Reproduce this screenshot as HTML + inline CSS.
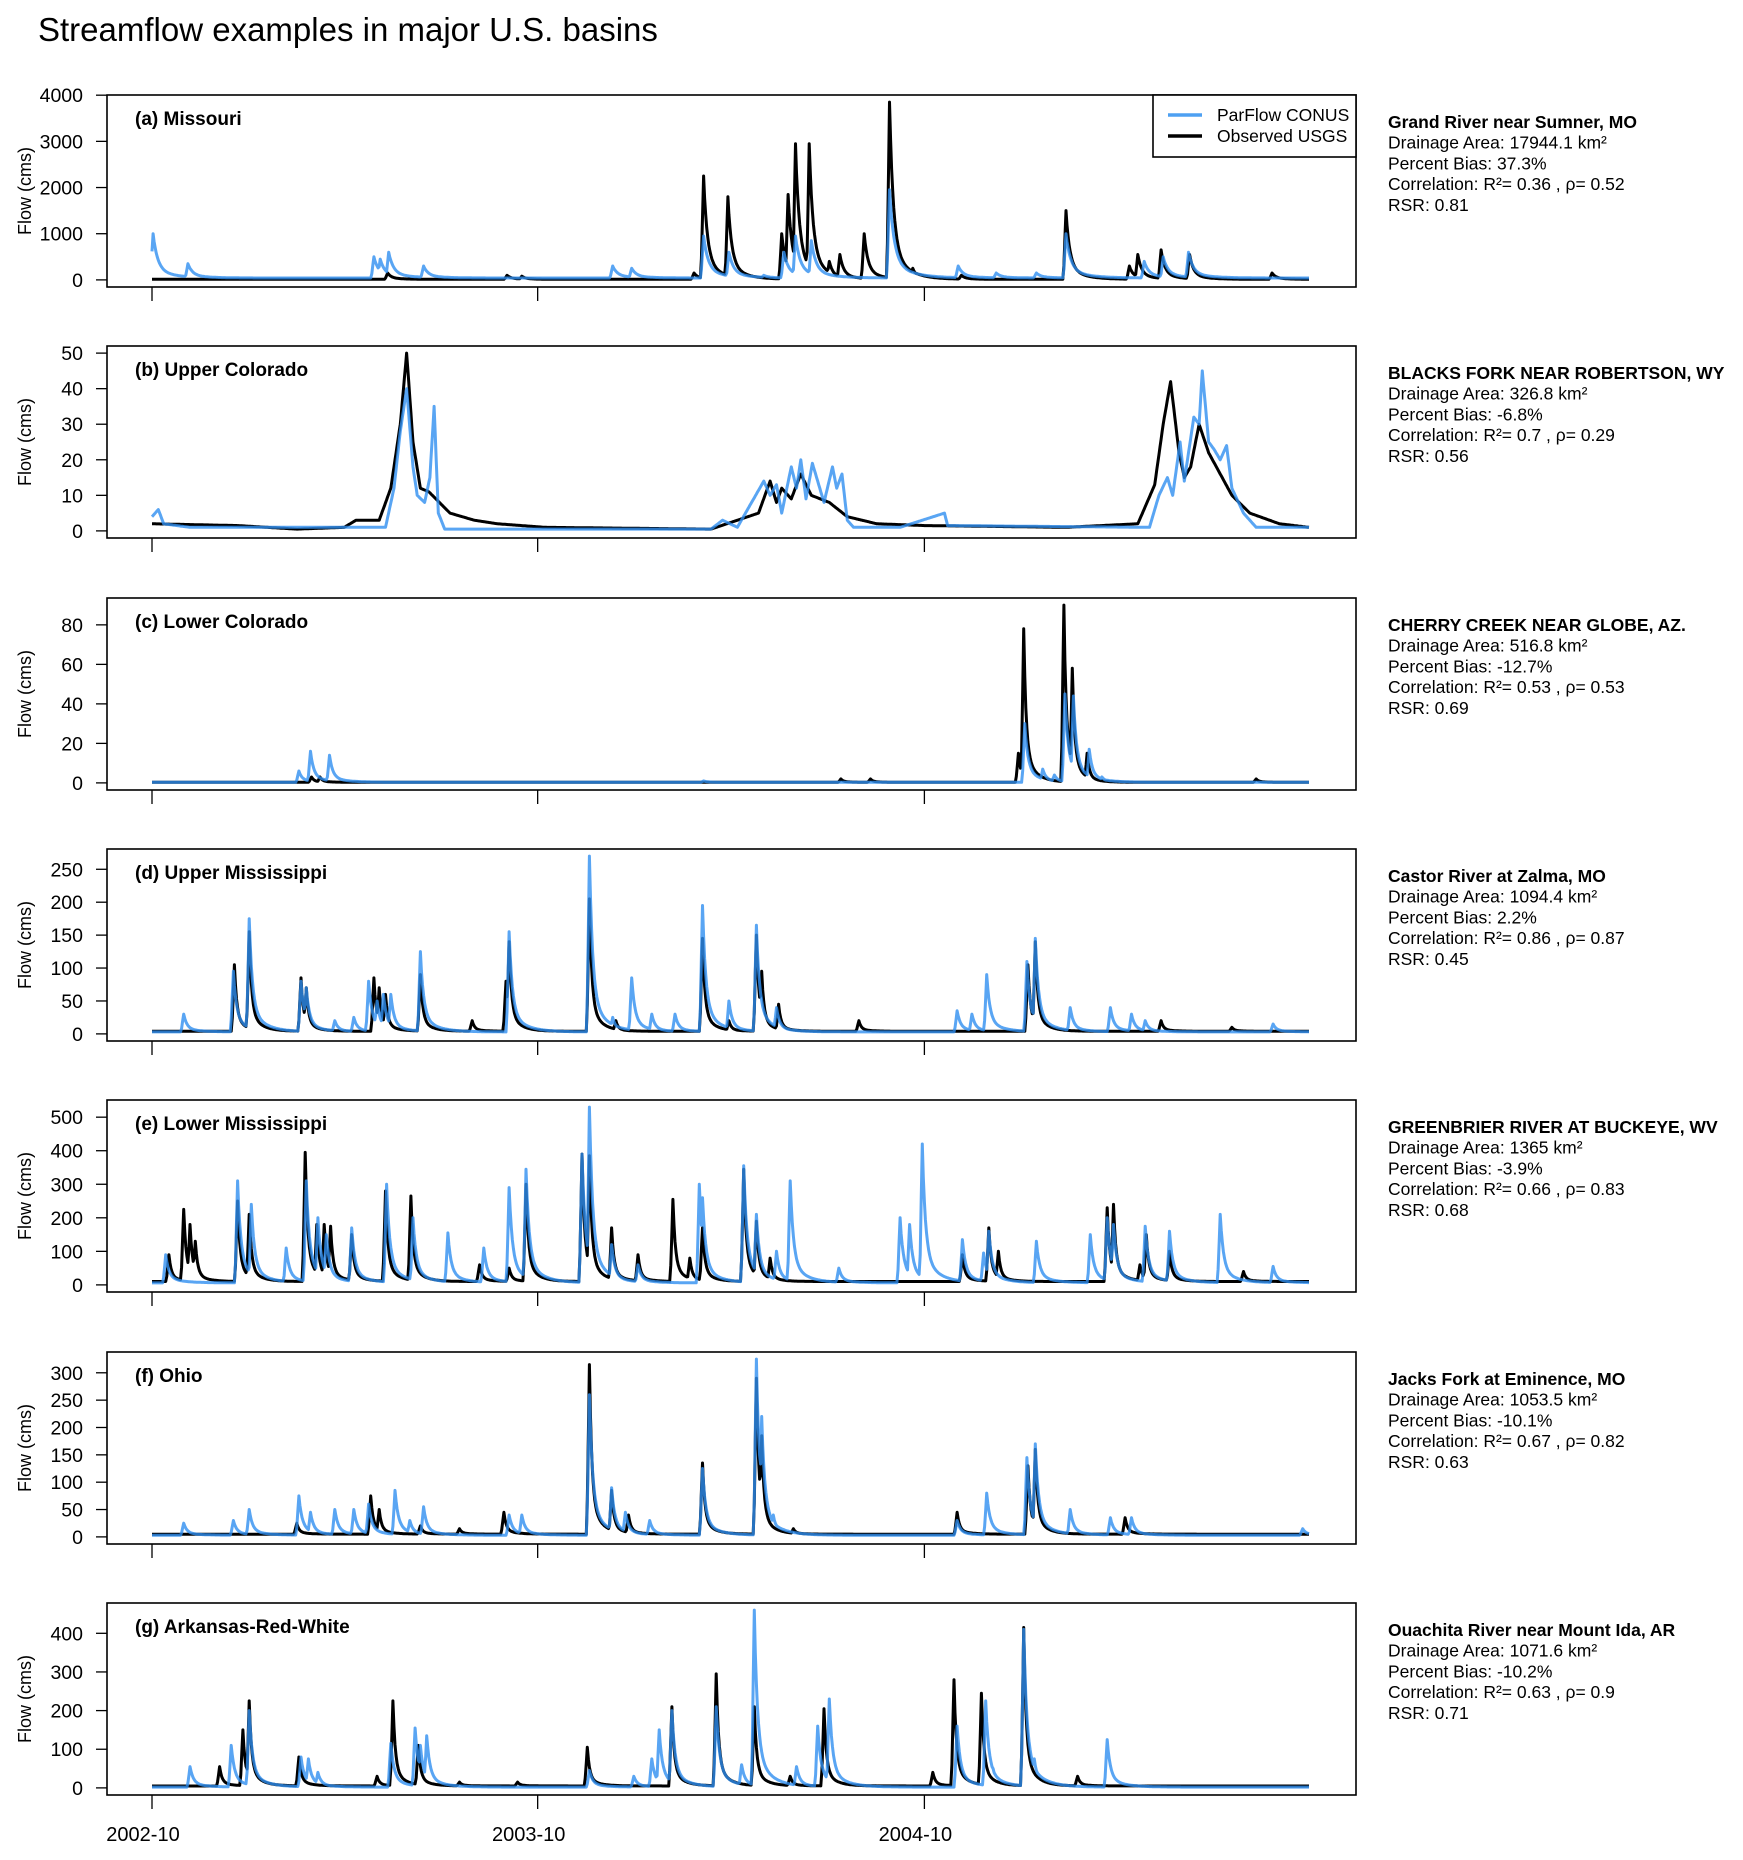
<!DOCTYPE html>
<html><head><meta charset="utf-8"><style>
html,body{margin:0;padding:0;background:#fff;}
svg{display:block;font-family:"Liberation Sans",Arial,sans-serif;}
</style></head><body>
<svg id="fig" width="1743" height="1860" viewBox="0 0 1743 1860" xmlns="http://www.w3.org/2000/svg">
<text x="38" y="41" font-size="33" fill="#000">Streamflow examples in major U.S. basins</text>
<g id="panels"></g>
</svg>
<script>
// ---- data (day index from 2002-10-01; values in cms) ----
const panelTitles = ["(a) Missouri","(b) Upper Colorado","(c) Lower Colorado","(d) Upper Mississippi","(e) Lower Mississippi","(f) Ohio","(g) Arkansas-Red-White"];
const stationNames = ["Grand River near Sumner, MO","BLACKS FORK NEAR ROBERTSON, WY","CHERRY CREEK NEAR GLOBE, AZ.","Castor River at Zalma, MO","GREENBRIER RIVER AT BUCKEYE, WV","Jacks Fork at Eminence, MO","Ouachita River near Mount Ida, AR"];
const drainageAreas = ["17944.1","326.8","516.8","1094.4","1365","1053.5","1071.6"];
const percentBias = ["37.3","-6.8","-12.7","2.2","-3.9","-10.1","-10.2"];
const r2Values = ["0.36","0.7","0.53","0.86","0.66","0.67","0.63"];
const rhoValues = ["0.52","0.29","0.53","0.87","0.83","0.82","0.9"];
const rsrValues = ["0.81","0.56","0.69","0.45","0.68","0.63","0.71"];
const yTicksA = [0,1000,2000,3000,4000];
const yTicksB = [0,10,20,30,40,50];
const yTicksC = [0,20,40,60,80];
const yTicksD = [0,50,100,150,200,250];
const yTicksE = [0,100,200,300,400,500];
const yTicksF = [0,50,100,150,200,250,300];
const yTicksG = [0,100,200,300,400];
const xTickDays = [0,365,731];
const xTickLabels = ["2002-10","2003-10","2004-10"];
const nDays = 1096;

const obsDaysA = [223,336,350,513,522,545,596,602,609,622,641,651,674,698,720,766,865,925,933,955,982,1060];
const obsValsA = [150,100,80,150,2250,1800,1000,1850,2950,2950,400,550,1000,3850,250,100,1500,300,550,650,550,150];
const simDaysA = [1,34,210,216,224,257,436,454,522,546,579,598,609,624,698,763,799,837,865,939,957,981];
const simValsA = [1000,350,500,450,600,300,300,250,950,600,100,600,950,850,1950,300,150,150,1000,400,500,600];

const obsDaysB = [0,81,137,182,193,215,226,235,241,247,254,262,282,305,327,372,529,574,585,591,596,605,614,624,641,658,686,731,865,933,949,957,964,972,977,983,991,1000,1022,1039,1067,1095];
const obsValsB = [2,1.5,0.5,1,3,3,12,30,50,25,12,11,5,3,2,1,0.5,5,14,8,12,9,16,10,8,4,2,1.5,1,2,13,30,42,22,15,18,30,22,10,5,2,1];
const simDaysB = [0,6,11,36,193,221,229,235,241,247,251,258,263,267,271,277,529,540,554,579,585,591,596,605,610,614,619,625,630,636,644,648,653,658,664,708,750,753,944,953,961,966,973,977,986,991,994,1000,1005,1011,1017,1022,1033,1045,1084,1095];
const simValsB = [4,6,2,1,1,1,12,28,40,18,10,8,15,35,5,0.5,0.5,3,1,14,10,13,5,18,12,20,9,19,14,8,18,12,16,3,1,1,5,1.5,1,10,15,10,25,14,32,30,45,25,23,20,24,12,5,1,1,1];

const obsDaysC = [151,159,652,680,820,825,832,863,871,885,1045];
const obsValsC = [3,3,2,2,15,78,5,90,58,15,2];
const simDaysC = [139,150,168,522,826,843,854,864,872,887,899];
const simValsC = [6,16,14,1,30,7,4,45,44,17,3];

const obsDaysD = [78,92,141,146,210,215,221,254,303,335,338,414,439,521,546,572,577,593,669,829,836,955,1022];
const obsValsD = [105,155,85,70,85,70,60,90,20,80,140,205,20,145,20,150,95,45,20,105,140,20,10];
const simDaysD = [30,77,92,141,146,173,191,205,213,219,226,254,338,414,423,436,454,473,495,521,546,572,591,762,776,790,828,836,869,907,927,940,1061];
const simValsD = [30,95,175,80,70,20,25,80,50,60,60,125,155,270,35,25,85,30,30,195,50,165,40,35,30,90,110,145,40,40,30,20,15];

const obsDaysE = [16,30,36,41,81,92,145,156,163,169,189,221,245,310,338,354,407,414,435,460,493,509,521,560,572,585,767,792,801,904,910,935,941,963,1033];
const obsValsE = [90,225,180,130,250,210,395,180,180,175,150,280,265,60,50,300,390,385,170,90,255,80,170,345,190,80,90,170,100,230,240,60,150,100,40];
const simDaysE = [13,81,94,127,146,157,165,189,222,247,280,314,338,354,407,414,435,460,518,521,560,572,591,604,650,708,717,729,767,787,792,837,888,904,910,940,963,1011,1061];
const simValsE = [90,310,240,110,310,200,150,170,300,200,155,110,290,345,390,530,120,60,300,260,355,210,100,310,50,200,180,420,135,95,160,130,150,200,180,175,160,210,55];

const obsDaysF = [137,207,215,254,291,333,414,435,451,521,572,577,607,762,829,836,921];
const obsValsF = [25,75,50,20,15,45,315,85,40,135,290,185,15,45,130,160,35];
const simDaysF = [30,77,92,139,150,173,191,205,230,244,257,338,350,414,435,448,471,521,572,577,588,762,790,828,836,869,907,927,1089];
const simValsF = [25,30,50,75,45,50,50,60,85,30,55,40,40,260,90,45,30,125,325,220,40,30,80,145,170,50,35,35,15];

const obsDaysG = [64,86,92,139,213,228,252,291,346,412,492,534,570,604,636,739,759,785,825,876];
const obsValsG = [55,150,225,80,30,225,110,15,15,105,210,295,210,30,205,40,280,245,415,30];
const simDaysG = [36,75,92,141,148,157,226,249,254,260,414,456,473,480,492,534,558,570,576,610,630,641,762,789,796,825,835,904];
const simValsG = [55,110,200,80,75,40,115,155,110,135,45,30,75,150,200,210,60,460,80,55,160,230,160,225,50,410,75,125];

const obsBase = [12,0,0.3,4,10,5,5];
const simBase = [40,0,0.3,3,6,3,2];
const yTickSets = [yTicksA,yTicksB,yTicksC,yTicksD,yTicksE,yTicksF,yTicksG];
const obsDaySets = [obsDaysA,obsDaysB,obsDaysC,obsDaysD,obsDaysE,obsDaysF,obsDaysG];
const obsValSets = [obsValsA,obsValsB,obsValsC,obsValsD,obsValsE,obsValsF,obsValsG];
const simDaySets = [simDaysA,simDaysB,simDaysC,simDaysD,simDaysE,simDaysF,simDaysG];
const simValSets = [simValsA,simValsB,simValsC,simValsD,simValsE,simValsF,simValsG];

// ---- layout ----
const NS = "http://www.w3.org/2000/svg";
const FL = 107, FR = 1356, FH = 192;
const tops = [95,346,598,849,1100,1352,1603];
const DX0 = 152, DX1 = 1309;
function xScale(d){ return DX0 + d*(DX1-DX0)/(nDays-1); }
function mk(tag, attrs, parent){ const e=document.createElementNS(NS,tag); for(const k in attrs) e.setAttribute(k,attrs[k]); parent.appendChild(e); return e; }

function dailyFromPeaks(days, vals, base, tauFast, tauSlow){
  const out = new Array(nDays).fill(base);
  for(let i=0;i<days.length;i++){
    const d=days[i], v=vals[i];
    for(let t=Math.max(0,d-3); t<Math.min(nDays,d+80); t++){
      let k;
      if(t<d) k = Math.max(0,1-(d-t)/2.5);
      else k = 0.8*Math.exp(-(t-d)/tauFast)+0.2*Math.exp(-(t-d)/tauSlow);
      out[t] = Math.max(out[t], base + (v-base)*k);
    }
  }
  return out;
}
function dailyFromPolyline(days, vals){
  const out = new Array(nDays);
  let j=0;
  for(let t=0;t<nDays;t++){
    while(j<days.length-2 && days[j+1]<t) j++;
    const d0=days[j], d1=days[j+1];
    const f = d1===d0?0:Math.min(1,Math.max(0,(t-d0)/(d1-d0)));
    out[t] = vals[j]+(vals[j+1]-vals[j])*f;
  }
  return out;
}

const root = document.getElementById('panels');
for(let p=0;p<7;p++){
  const top = tops[p];
  let obs, sim;
  if(p===1){ obs = dailyFromPolyline(obsDaySets[p], obsValSets[p]); sim = dailyFromPolyline(simDaySets[p], simValSets[p]); }
  else {
    const tf = p===0?3.5:2.2, ts = p===0?14:10;
    obs = dailyFromPeaks(obsDaySets[p], obsValSets[p], obsBase[p], tf, ts);
    sim = dailyFromPeaks(simDaySets[p], simValSets[p], simBase[p], tf+0.8, ts+4);
  }
  const M = Math.max(Math.max(...obs), Math.max(...sim));
  const yScale = v => top + FH*(1.04*M - v)/(1.08*M);

  const g = mk('g',{},root);
  
  

  const toPts = arr => arr.map((v,t)=>xScale(t).toFixed(1)+','+yScale(v).toFixed(1)).join(' ');
  const lo = mk('polyline',{points:toPts(obs),fill:'none',stroke:'#000','stroke-width':3,'stroke-linejoin':'round'},g);
  
  
  const ls = mk('polyline',{points:toPts(sim),fill:'none',stroke:'#2f8ff0','stroke-opacity':0.8,'stroke-width':3,'stroke-linejoin':'round'},g);
  
  

  const fr = mk('rect',{x:FL,y:top,width:FR-FL,height:FH,fill:'none',stroke:'#000','stroke-width':1.6},g);
  
  

  const ya = mk('g',{},g);
  
  
  yTickSets[p].forEach(v=>{
    const y=yScale(v);
    mk('line',{x1:FL-11,x2:FL,y1:y,y2:y,stroke:'#000','stroke-width':1.3},ya);
    const t=mk('text',{x:FL-24,y:y+7,'text-anchor':'end','font-size':19.5},ya);
    t.textContent=v;
    
    
  });
  const yl = mk('text',{x:0,y:0,'font-size':18,'text-anchor':'middle',transform:`translate(31,${top+FH/2}) rotate(-90)`},g);
  yl.textContent='Flow (cms)';
  
  

  xTickDays.forEach((d,i)=>{
    const x=xScale(d);
    mk('line',{x1:x,x2:x,y1:top+FH,y2:top+FH+14,stroke:'#000','stroke-width':1.3},g);
    if(p===6){
      const t=mk('text',{x:x-9,y:top+FH+46,'text-anchor':'middle','font-size':20},g);
      t.textContent=xTickLabels[i];
      
      
    }
  });

  const pl = mk('text',{x:135,y:top+30,'font-size':19,'font-weight':'bold'},g);
  pl.textContent=panelTitles[p];
  
  

  const st = mk('text',{x:1388,y:top+33,'font-size':17.5},g);
  
  
  const lines=[stationNames[p],'Drainage Area: '+drainageAreas[p]+' km²','Percent Bias: '+percentBias[p]+'%','Correlation: R²= '+r2Values[p]+' , ρ= '+rhoValues[p],'RSR:  '+rsrValues[p]];
  lines.forEach((s,i)=>{
    const ts=mk('tspan',{x:1388,y:top+33+i*20.7},st);
    if(i===0) ts.setAttribute('font-weight','bold');
    ts.textContent=s;
  });
}

const lg = mk('g',{},root);


mk('rect',{x:1153,y:95,width:203,height:62,fill:'#fff',stroke:'#000','stroke-width':1.6},lg);
const le1 = mk('g',{},lg);


mk('line',{x1:1168,x2:1202,y1:115,y2:115,stroke:'#2f8ff0','stroke-opacity':0.85,'stroke-width':3.5},le1);
const lt1=mk('text',{x:1217,y:121,'font-size':17.5},le1); lt1.textContent='ParFlow CONUS';
const le2 = mk('g',{},lg);


mk('line',{x1:1168,x2:1202,y1:136,y2:136,stroke:'#000','stroke-width':3.5},le2);
const lt2=mk('text',{x:1217,y:142,'font-size':17.5},le2); lt2.textContent='Observed USGS';
</script>
</body></html>
